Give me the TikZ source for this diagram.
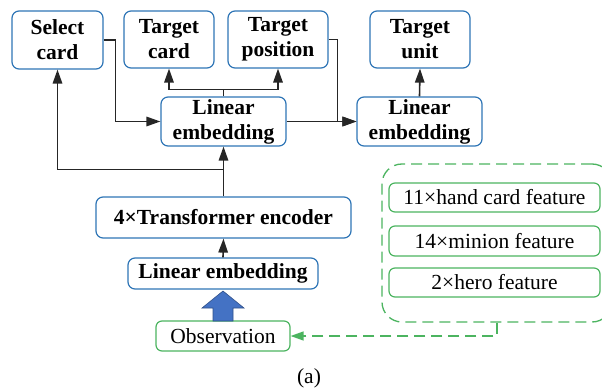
\documentclass[tikz,border=0pt]{standalone}
\usepackage{fontspec}
\setmainfont{Liberation Serif}
\usetikzlibrary{arrows.meta}
\definecolor{boxblue}{RGB}{46,117,182}
\definecolor{featgreen}{RGB}{76,180,96}
\definecolor{fatblue}{RGB}{68,114,196}
\begin{document}
\begin{tikzpicture}[x=1pt, y=-1pt, font=\fontsize{21.5}{25}\selectfont,
  blk/.style={draw=boxblue, line width=1.2pt, rounded corners=7pt, inner sep=0pt, align=center, font=\fontsize{21.5}{25}\selectfont\bfseries},
  feat/.style={draw=featgreen, line width=1.2pt, rounded corners=6pt, inner sep=0pt, align=center},
  arr/.style={line width=1.6pt, draw=black!85, -{Triangle[length=14pt,width=9.5pt]}},
  gdash/.style={draw=featgreen, line width=1.3pt, dash pattern=on 11pt off 6pt}]

\useasboundingbox (0,0) rectangle (602,390);

% output heads
\node[blk, minimum width=91, minimum height=58] (sel) at (57.5,40) {Select\\card};
\node[blk, minimum width=90, minimum height=57] (tcard) at (169,39.5) {Target\\card};
\node[blk, minimum width=100, minimum height=57] (tpos) at (278,39.5) {Target\\position};
\node[blk, minimum width=100, minimum height=57] (tunit) at (420,39.5) {Target\\unit};

% embeddings and encoder
\node[blk, minimum width=125, minimum height=49] (emb1) at (223.5,121.5) {Linear\\embedding};
\node[blk, minimum width=125, minimum height=49] (emb2) at (419.5,121.5) {Linear\\embedding};
\node[blk, minimum width=255, minimum height=41] (trans) at (223.5,217.5) {4×Transformer encoder};
\node[blk, minimum width=190, minimum height=31] (emb0) at (223,273.5) {Linear embedding};
\node[feat, minimum width=134, minimum height=30] (obs) at (223,336) {Observation};

% observation features
\node[gdash, rounded corners=20pt, minimum width=230, minimum height=158] (grp) at (497,243) {};
\node[feat, minimum width=211, minimum height=29] (hand) at (494.5,197.5) {11×hand card feature};
\node[feat, minimum width=211, minimum height=30] (minion) at (494.5,241) {14×minion feature};
\node[feat, minimum width=211, minimum height=29] (hero) at (494.5,282.5) {2×hero feature};

% fat arrow
\filldraw[fill=fatblue, draw=fatblue!70!black, line width=0.6pt]
  (213,321) -- (213,308) -- (202,308) -- (223,291) -- (244,308) -- (233,308) -- (233,321) -- cycle;

% connectors
\draw[arr] (emb0.north) -- (trans.south);
\draw[arr] (trans.north) -- (emb1.south);
\path (trans.north) ++(0,-27) coordinate (tap);
\draw[arr] (tap) -| (sel.south);
\draw[arr] (sel.east) -- ++(12,0) |- (emb1.west);
\draw[arr] (emb1.east) -- (emb2.west);
\draw[arr] (tpos.east) -- ++(9,0) |- (emb2.west);
\path (emb1.north) ++(0,-7) coordinate (fork);
\draw[arr] (fork) -| (tcard.south);
\draw[arr] (fork) -| (tpos.south);
\draw[line width=1.6pt, draw=black!85] (emb1.north) -- (fork);
\draw[arr] (emb2.north) -- (tunit.south);
\draw[gdash, -{Triangle[length=13pt,width=9pt]}] (grp.south) |- (obs.east);

\node (cap) at (309,378) {(a)};

\end{tikzpicture}
\end{document}
